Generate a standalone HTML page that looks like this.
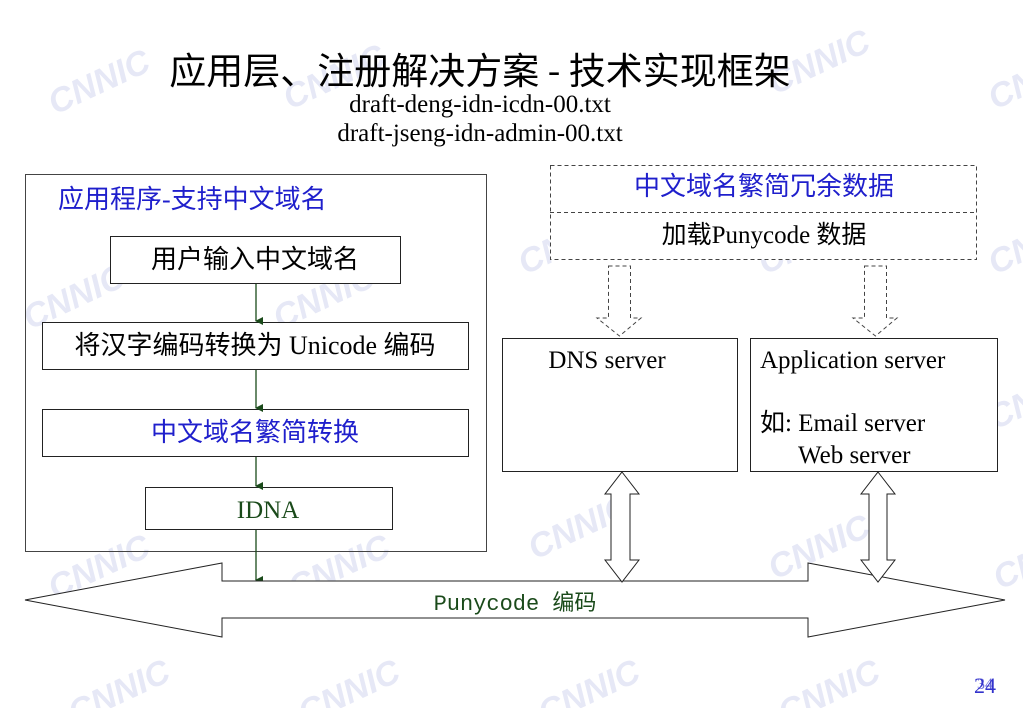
<!DOCTYPE html>
<html><head><meta charset="utf-8"><style>
body{margin:0;background:#fff;}
svg{display:block}
.cj{font-family:"Liberation Serif","Noto Sans CJK SC",serif}
.wm{font-family:"Liberation Sans",sans-serif;font-weight:bold;font-style:italic;fill:#e6e8f6;font-size:34px}
</style></head><body>
<svg width="1023" height="708" viewBox="0 0 1023 708" xmlns="http://www.w3.org/2000/svg">
<defs>
<marker id="g" markerWidth="8" markerHeight="8" refX="4" refY="7" orient="auto" markerUnits="userSpaceOnUse">
<path d="M0,0 L8,0 L4,8 z" fill="#1a4a1a"/></marker>
</defs>
<g class="wm">
<text transform="translate(55,115) rotate(-25)">CNNIC</text>
<text transform="translate(290,110) rotate(-25)">CNNIC</text>
<text transform="translate(775,95) rotate(-25)">CNNIC</text>
<text transform="translate(995,110) rotate(-25)">CNNIC</text>
<text transform="translate(30,330) rotate(-25)">CNNIC</text>
<text transform="translate(525,275) rotate(-25)">CNNIC</text>
<text transform="translate(765,275) rotate(-25)">CNNIC</text>
<text transform="translate(995,275) rotate(-25)">CNNIC</text>
<text transform="translate(280,330) rotate(-25)">CNNIC</text>
<text transform="translate(55,600) rotate(-25)">CNNIC</text>
<text transform="translate(295,600) rotate(-25)">CNNIC</text>
<text transform="translate(535,560) rotate(-25)">CNNIC</text>
<text transform="translate(775,580) rotate(-25)">CNNIC</text>
<text transform="translate(1000,590) rotate(-25)">CNNIC</text>
<text transform="translate(995,430) rotate(-25)">CNNIC</text>
<text transform="translate(75,725) rotate(-25)">CNNIC</text>
<text transform="translate(305,725) rotate(-25)">CNNIC</text>
<text transform="translate(545,725) rotate(-25)">CNNIC</text>
<text transform="translate(785,725) rotate(-25)">CNNIC</text>
</g>
<text x="480" y="84" text-anchor="middle" font-size="37" style="font-family:'Noto Sans CJK SC',sans-serif">应用层、注册解决方案 - 技术实现框架</text>
<text x="480" y="112" text-anchor="middle" font-size="25" class="cj">draft-deng-idn-icdn-00.txt</text>
<text x="480" y="141" text-anchor="middle" font-size="25" class="cj">draft-jseng-idn-admin-00.txt</text>
<rect x="25.5" y="174.5" width="461" height="377" fill="none" stroke="#444" stroke-width="1"/>
<text x="58" y="208" font-size="26" fill="#1f1fcc" class="cj">应用程序-支持中文域名</text>
<rect x="110.5" y="236.5" width="290" height="47" fill="#fff" stroke="#222"/>
<text x="255" y="268" text-anchor="middle" font-size="26" class="cj">用户输入中文域名</text>
<rect x="42.5" y="322.5" width="426" height="47" fill="#fff" stroke="#222"/>
<text x="255" y="354" text-anchor="middle" font-size="26" class="cj">将汉字编码转换为 Unicode 编码</text>
<rect x="42.5" y="409.5" width="426" height="47" fill="#fff" stroke="#222"/>
<text x="255" y="441" text-anchor="middle" font-size="26" fill="#1f1fcc" class="cj">中文域名繁简转换</text>
<rect x="145.5" y="487.5" width="247" height="42" fill="#fff" stroke="#222"/>
<text x="268" y="518" text-anchor="middle" font-size="25" fill="#1a4a1a" class="cj">IDNA</text>
<g stroke="#1a4a1a" stroke-width="1.3">
<line x1="256" y1="284" x2="256" y2="321" marker-end="url(#g)"/>
<line x1="256" y1="370" x2="256" y2="408" marker-end="url(#g)"/>
<line x1="256" y1="457" x2="256" y2="486" marker-end="url(#g)"/>
<line x1="256" y1="530" x2="256" y2="580" marker-end="url(#g)"/>
</g>
<rect x="550.5" y="165.5" width="426" height="94" fill="#fff" stroke="#444" stroke-dasharray="4,3"/>
<line x1="550" y1="212.5" x2="977" y2="212.5" stroke="#444" stroke-dasharray="4,3"/>
<text x="764" y="195" text-anchor="middle" font-size="26" fill="#1f1fcc" class="cj">中文域名繁简冗余数据</text>
<text x="764" y="243" text-anchor="middle" font-size="25" class="cj">加载Punycode 数据</text>
<g fill="#fff" stroke="#444" stroke-dasharray="4,3">
<path d="M608.5,266 L630.5,266 L630.5,318 L641,318 L619.5,336 L597,318 L608.5,318 Z"/>
<path d="M864.5,266 L886.5,266 L886.5,318 L897,318 L875.5,336 L853,318 L864.5,318 Z"/>
</g>
<rect x="502.5" y="338.5" width="235" height="133" fill="#fff" stroke="#222"/>
<text x="607" y="368" text-anchor="middle" font-size="25" class="cj">DNS server</text>
<rect x="750.5" y="338.5" width="247" height="133" fill="#fff" stroke="#222"/>
<text x="760" y="368" font-size="25" class="cj">Application server</text>
<text x="760" y="431" font-size="25" class="cj">如: Email server</text>
<text x="798" y="463" font-size="25" class="cj">Web server</text>
<path d="M25,600 L222,563 L222,581 L808,581 L808,563 L1005,600 L808,637 L808,618 L222,618 L222,637 Z" fill="#fff" stroke="#222" stroke-width="1"/>
<text x="515" y="610" text-anchor="middle" font-size="22" fill="#1a4a1a" font-family='"Liberation Mono","Noto Sans CJK SC",monospace'>Punycode 编码</text>
<g fill="#fff" stroke="#222">
<path d="M622,472 L639,494 L630,494 L630,560 L639,560 L622,582 L605,560 L611,560 L611,494 L605,494 Z"/>
<path d="M878,472 L895,494 L887,494 L887,560 L895,560 L878,582 L861,560 L869,560 L869,494 L861,494 Z"/>
</g>
<text x="985" y="693" text-anchor="middle" font-size="22" fill="#3333cc" class="cj">24</text>
<text x="985" y="689" text-anchor="middle" font-size="16" fill="#3333cc" class="cj" opacity="0.7">34</text>
</svg>
</body></html>
